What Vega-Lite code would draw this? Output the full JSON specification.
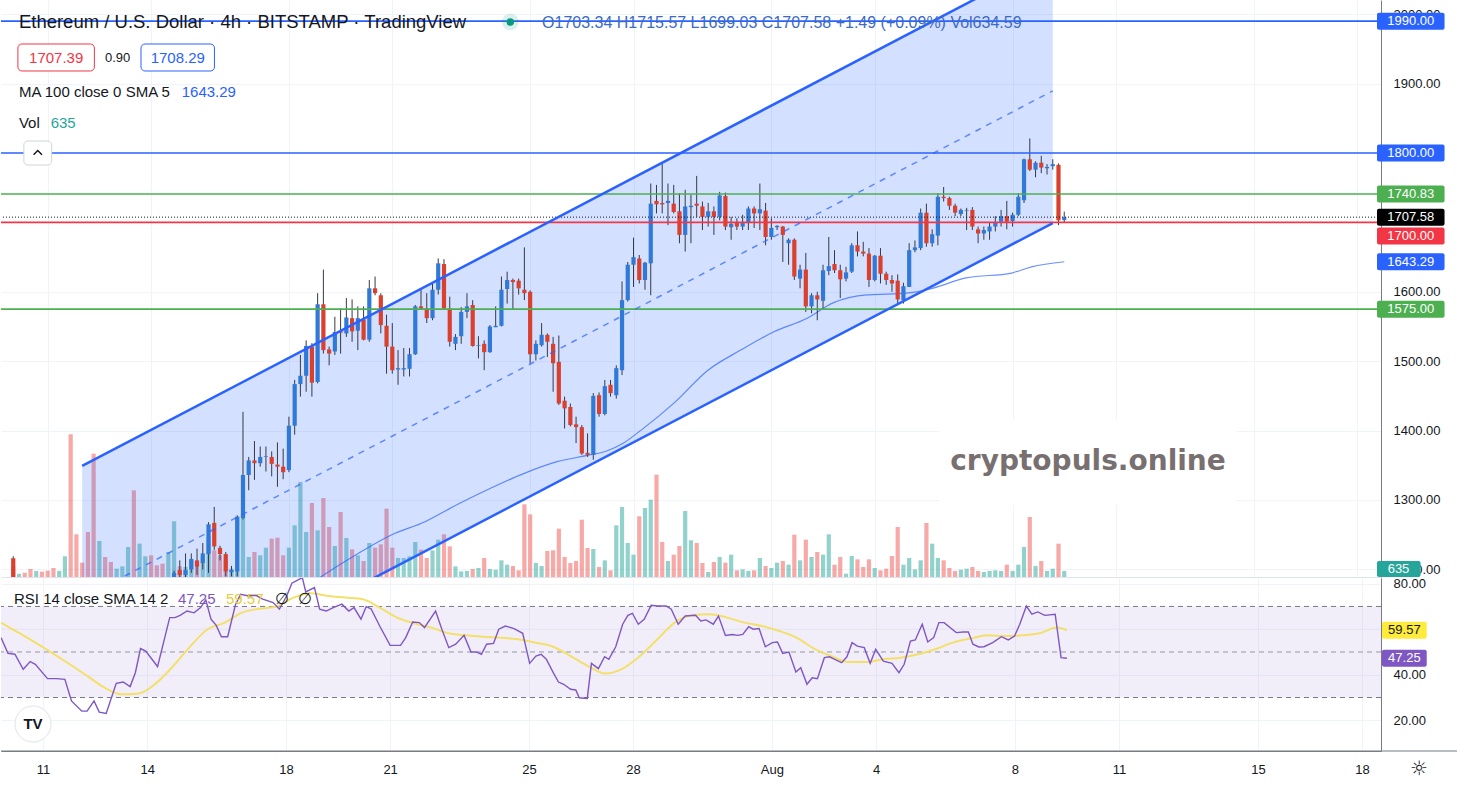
{
"$schema":"https://vega.github.io/schema/vega-lite/v6.json",
"padding":0,
"background":"#ffffff",
"spacing":0,
"config":{"view":{"stroke":null},"font":"Liberation Sans","axis":{"gridColor":"#f0f3fa","labelFont":"Liberation Sans","labelFontSize":13,"labelColor":"#131722","ticks":false}},
"resolve":{"scale":{"x":"independent","y":"independent"}},
"datasets":{
"k":[
{"t":10,"o":1216,"h":1219,"l":1160,"c":1168,"v":1060},
{"t":10.167,"o":1168,"h":1180,"l":1162,"c":1175,"v":353},
{"t":10.333,"o":1175,"h":1178,"l":1160,"c":1165,"v":459},
{"t":10.5,"o":1165,"h":1168,"l":1145,"c":1150,"v":848},
{"t":10.667,"o":1150,"h":1163,"l":1146,"c":1160,"v":636},
{"t":10.833,"o":1160,"h":1164,"l":1148,"c":1152,"v":565},
{"t":11,"o":1152,"h":1155,"l":1135,"c":1140,"v":671},
{"t":11.167,"o":1140,"h":1143,"l":1105,"c":1110,"v":954},
{"t":11.333,"o":1110,"h":1121,"l":1104,"c":1118,"v":636},
{"t":11.5,"o":1118,"h":1130,"l":1112,"c":1125,"v":2191},
{"t":11.667,"o":1125,"h":1128,"l":1062,"c":1070,"v":15123},
{"t":11.833,"o":1070,"h":1078,"l":1055,"c":1060,"v":4523},
{"t":12,"o":1060,"h":1066,"l":1050,"c":1055,"v":1519},
{"t":12.167,"o":1055,"h":1060,"l":1035,"c":1040,"v":4770},
{"t":12.333,"o":1040,"h":1044,"l":1002,"c":1010,"v":13073},
{"t":12.5,"o":1010,"h":1040,"l":1005,"c":1035,"v":3816},
{"t":12.667,"o":1035,"h":1040,"l":1025,"c":1030,"v":2120},
{"t":12.833,"o":1030,"h":1036,"l":1022,"c":1028,"v":1590},
{"t":13,"o":1028,"h":1038,"l":1024,"c":1035,"v":883},
{"t":13.167,"o":1035,"h":1048,"l":1030,"c":1045,"v":1131},
{"t":13.333,"o":1045,"h":1075,"l":1040,"c":1070,"v":3180},
{"t":13.5,"o":1070,"h":1074,"l":1006,"c":1020,"v":9187},
{"t":13.667,"o":1020,"h":1080,"l":1015,"c":1075,"v":3533},
{"t":13.833,"o":1075,"h":1105,"l":1070,"c":1100,"v":2191},
{"t":14,"o":1100,"h":1106,"l":1085,"c":1090,"v":2297},
{"t":14.167,"o":1090,"h":1095,"l":1080,"c":1085,"v":1237},
{"t":14.333,"o":1085,"h":1090,"l":1072,"c":1080,"v":1413},
{"t":14.5,"o":1080,"h":1115,"l":1076,"c":1110,"v":2650},
{"t":14.667,"o":1110,"h":1198,"l":1105,"c":1195,"v":5901},
{"t":14.833,"o":1199,"h":1213,"l":1185,"c":1192,"v":1131},
{"t":15,"o":1192,"h":1223,"l":1188,"c":1199,"v":1060},
{"t":15.167,"o":1200,"h":1223,"l":1195,"c":1215,"v":1767},
{"t":15.333,"o":1213,"h":1230,"l":1192,"c":1204,"v":1413},
{"t":15.5,"o":1209,"h":1238,"l":1200,"c":1223,"v":2120},
{"t":15.667,"o":1222,"h":1268,"l":1195,"c":1265,"v":4240},
{"t":15.833,"o":1267,"h":1290,"l":1228,"c":1233,"v":2827},
{"t":16,"o":1231,"h":1234,"l":1213,"c":1222,"v":2297},
{"t":16.167,"o":1222,"h":1225,"l":1190,"c":1197,"v":1767},
{"t":16.333,"o":1196,"h":1205,"l":1190,"c":1199,"v":883},
{"t":16.5,"o":1197,"h":1278,"l":1190,"c":1276,"v":6360},
{"t":16.667,"o":1274,"h":1427,"l":1272,"c":1336,"v":6713},
{"t":16.833,"o":1336,"h":1362,"l":1314,"c":1357,"v":2120},
{"t":17,"o":1357,"h":1385,"l":1329,"c":1353,"v":2650},
{"t":17.167,"o":1353,"h":1377,"l":1348,"c":1362,"v":2297},
{"t":17.333,"o":1362,"h":1377,"l":1341,"c":1363,"v":3109},
{"t":17.5,"o":1362,"h":1370,"l":1334,"c":1352,"v":4063},
{"t":17.667,"o":1351,"h":1383,"l":1319,"c":1348,"v":4169},
{"t":17.833,"o":1348,"h":1374,"l":1330,"c":1340,"v":2297},
{"t":18,"o":1343,"h":1420,"l":1340,"c":1407,"v":3109},
{"t":18.167,"o":1407,"h":1473,"l":1394,"c":1467,"v":5477},
{"t":18.333,"o":1467,"h":1509,"l":1449,"c":1479,"v":10070},
{"t":18.5,"o":1479,"h":1530,"l":1456,"c":1522,"v":4770},
{"t":18.667,"o":1521,"h":1526,"l":1449,"c":1469,"v":7844},
{"t":18.833,"o":1470,"h":1598,"l":1468,"c":1582,"v":4947},
{"t":19,"o":1582,"h":1632,"l":1511,"c":1516,"v":8374},
{"t":19.167,"o":1517,"h":1521,"l":1494,"c":1511,"v":5300},
{"t":19.333,"o":1514,"h":1564,"l":1509,"c":1542,"v":3286},
{"t":19.5,"o":1543,"h":1576,"l":1511,"c":1541,"v":6890},
{"t":19.667,"o":1540,"h":1591,"l":1535,"c":1563,"v":4134},
{"t":19.833,"o":1562,"h":1589,"l":1528,"c":1543,"v":2933},
{"t":20,"o":1544,"h":1579,"l":1516,"c":1562,"v":2297},
{"t":20.167,"o":1560,"h":1579,"l":1530,"c":1531,"v":1696},
{"t":20.333,"o":1531,"h":1617,"l":1528,"c":1605,"v":3604},
{"t":20.5,"o":1605,"h":1622,"l":1595,"c":1598,"v":3109},
{"t":20.667,"o":1595,"h":1598,"l":1540,"c":1552,"v":3463},
{"t":20.833,"o":1551,"h":1567,"l":1482,"c":1521,"v":7243},
{"t":21,"o":1521,"h":1555,"l":1482,"c":1487,"v":3109},
{"t":21.167,"o":1488,"h":1516,"l":1466,"c":1490,"v":2014},
{"t":21.333,"o":1488,"h":1519,"l":1478,"c":1490,"v":2014},
{"t":21.5,"o":1489,"h":1519,"l":1478,"c":1510,"v":2191},
{"t":21.667,"o":1510,"h":1581,"l":1509,"c":1579,"v":3710},
{"t":21.833,"o":1579,"h":1603,"l":1574,"c":1576,"v":2897},
{"t":22,"o":1576,"h":1598,"l":1555,"c":1562,"v":2014},
{"t":22.167,"o":1562,"h":1612,"l":1559,"c":1603,"v":2827},
{"t":22.333,"o":1603,"h":1648,"l":1596,"c":1641,"v":3957},
{"t":22.5,"o":1640,"h":1647,"l":1574,"c":1576,"v":4523},
{"t":22.667,"o":1576,"h":1593,"l":1521,"c":1528,"v":3251},
{"t":22.833,"o":1525,"h":1539,"l":1516,"c":1535,"v":1131},
{"t":23,"o":1536,"h":1578,"l":1525,"c":1571,"v":601},
{"t":23.167,"o":1571,"h":1598,"l":1562,"c":1579,"v":636},
{"t":23.333,"o":1581,"h":1588,"l":1521,"c":1522,"v":848},
{"t":23.5,"o":1522,"h":1536,"l":1504,"c":1523,"v":954},
{"t":23.667,"o":1525,"h":1530,"l":1487,"c":1513,"v":2014},
{"t":23.833,"o":1513,"h":1552,"l":1512,"c":1550,"v":848},
{"t":24,"o":1549,"h":1579,"l":1549,"c":1551,"v":777},
{"t":24.167,"o":1551,"h":1622,"l":1550,"c":1603,"v":1767},
{"t":24.333,"o":1604,"h":1629,"l":1583,"c":1617,"v":1307},
{"t":24.5,"o":1617,"h":1619,"l":1574,"c":1614,"v":1166},
{"t":24.667,"o":1616,"h":1619,"l":1596,"c":1605,"v":707},
{"t":24.833,"o":1603,"h":1664,"l":1588,"c":1598,"v":7703},
{"t":25,"o":1600,"h":1602,"l":1497,"c":1510,"v":6643},
{"t":25.167,"o":1510,"h":1530,"l":1501,"c":1525,"v":1484},
{"t":25.333,"o":1523,"h":1555,"l":1521,"c":1538,"v":1166},
{"t":25.5,"o":1538,"h":1540,"l":1506,"c":1528,"v":2756},
{"t":25.667,"o":1525,"h":1535,"l":1456,"c":1497,"v":2827},
{"t":25.833,"o":1499,"h":1537,"l":1437,"c":1439,"v":5123},
{"t":26,"o":1443,"h":1449,"l":1403,"c":1432,"v":2120},
{"t":26.167,"o":1434,"h":1439,"l":1406,"c":1408,"v":1484},
{"t":26.333,"o":1409,"h":1420,"l":1382,"c":1405,"v":1696},
{"t":26.5,"o":1405,"h":1408,"l":1365,"c":1367,"v":6077},
{"t":26.667,"o":1368,"h":1396,"l":1362,"c":1365,"v":3074},
{"t":26.833,"o":1365,"h":1454,"l":1358,"c":1450,"v":2968},
{"t":27,"o":1451,"h":1455,"l":1420,"c":1424,"v":1060},
{"t":27.167,"o":1424,"h":1473,"l":1422,"c":1464,"v":1767},
{"t":27.333,"o":1466,"h":1473,"l":1449,"c":1454,"v":707},
{"t":27.5,"o":1451,"h":1494,"l":1446,"c":1490,"v":5477},
{"t":27.667,"o":1487,"h":1615,"l":1480,"c":1588,"v":7420},
{"t":27.833,"o":1588,"h":1643,"l":1586,"c":1639,"v":3604},
{"t":28,"o":1639,"h":1678,"l":1607,"c":1650,"v":2367},
{"t":28.167,"o":1648,"h":1653,"l":1612,"c":1617,"v":6431},
{"t":28.333,"o":1617,"h":1643,"l":1603,"c":1642,"v":7314},
{"t":28.5,"o":1641,"h":1756,"l":1595,"c":1727,"v":8197},
{"t":28.667,"o":1731,"h":1754,"l":1713,"c":1726,"v":10847},
{"t":28.833,"o":1728,"h":1785,"l":1713,"c":1726,"v":3710},
{"t":29,"o":1728,"h":1756,"l":1696,"c":1731,"v":1696},
{"t":29.167,"o":1727,"h":1754,"l":1713,"c":1715,"v":2367},
{"t":29.333,"o":1716,"h":1742,"l":1670,"c":1682,"v":3286},
{"t":29.5,"o":1682,"h":1747,"l":1658,"c":1723,"v":6996},
{"t":29.667,"o":1722,"h":1740,"l":1670,"c":1724,"v":3887},
{"t":29.833,"o":1727,"h":1767,"l":1708,"c":1724,"v":3604},
{"t":30,"o":1723,"h":1730,"l":1689,"c":1708,"v":1484},
{"t":30.167,"o":1708,"h":1728,"l":1694,"c":1716,"v":530},
{"t":30.333,"o":1716,"h":1723,"l":1682,"c":1708,"v":1590},
{"t":30.5,"o":1708,"h":1744,"l":1703,"c":1739,"v":2120},
{"t":30.667,"o":1738,"h":1743,"l":1689,"c":1694,"v":1519},
{"t":30.833,"o":1693,"h":1708,"l":1675,"c":1698,"v":2367},
{"t":31,"o":1700,"h":1706,"l":1689,"c":1694,"v":707},
{"t":31.167,"o":1694,"h":1711,"l":1689,"c":1699,"v":813},
{"t":31.333,"o":1699,"h":1723,"l":1689,"c":1720,"v":636},
{"t":31.5,"o":1720,"h":1723,"l":1692,"c":1713,"v":707},
{"t":31.667,"o":1713,"h":1756,"l":1689,"c":1719,"v":2014},
{"t":31.833,"o":1717,"h":1728,"l":1667,"c":1679,"v":1166},
{"t":32,"o":1679,"h":1706,"l":1675,"c":1692,"v":954},
{"t":32.167,"o":1693,"h":1696,"l":1689,"c":1695,"v":1519},
{"t":32.333,"o":1694,"h":1695,"l":1643,"c":1682,"v":1696},
{"t":32.5,"o":1670,"h":1677,"l":1639,"c":1675,"v":1307},
{"t":32.667,"o":1675,"h":1677,"l":1617,"c":1622,"v":4487},
{"t":32.833,"o":1619,"h":1639,"l":1605,"c":1632,"v":1767},
{"t":33,"o":1632,"h":1656,"l":1571,"c":1579,"v":3957},
{"t":33.167,"o":1579,"h":1598,"l":1569,"c":1595,"v":2120},
{"t":33.333,"o":1595,"h":1600,"l":1559,"c":1589,"v":2650},
{"t":33.5,"o":1587,"h":1639,"l":1574,"c":1631,"v":2367},
{"t":33.667,"o":1630,"h":1679,"l":1624,"c":1637,"v":4523},
{"t":33.833,"o":1640,"h":1660,"l":1627,"c":1631,"v":1307},
{"t":34,"o":1631,"h":1639,"l":1591,"c":1618,"v":2120},
{"t":34.167,"o":1619,"h":1636,"l":1615,"c":1628,"v":353},
{"t":34.333,"o":1629,"h":1670,"l":1627,"c":1667,"v":2226},
{"t":34.5,"o":1667,"h":1687,"l":1651,"c":1658,"v":1873},
{"t":34.667,"o":1658,"h":1672,"l":1651,"c":1655,"v":1060},
{"t":34.833,"o":1655,"h":1663,"l":1607,"c":1617,"v":1873},
{"t":35,"o":1617,"h":1653,"l":1615,"c":1652,"v":954},
{"t":35.167,"o":1652,"h":1663,"l":1612,"c":1626,"v":707},
{"t":35.333,"o":1626,"h":1629,"l":1610,"c":1617,"v":883},
{"t":35.5,"o":1617,"h":1624,"l":1600,"c":1612,"v":2226},
{"t":35.667,"o":1616,"h":1625,"l":1583,"c":1589,"v":5300},
{"t":35.833,"o":1588,"h":1613,"l":1583,"c":1608,"v":1307},
{"t":36,"o":1607,"h":1670,"l":1607,"c":1660,"v":2014},
{"t":36.167,"o":1660,"h":1674,"l":1657,"c":1664,"v":813},
{"t":36.333,"o":1663,"h":1720,"l":1660,"c":1714,"v":1767},
{"t":36.5,"o":1714,"h":1727,"l":1665,"c":1670,"v":5724},
{"t":36.667,"o":1670,"h":1690,"l":1665,"c":1683,"v":3533},
{"t":36.833,"o":1681,"h":1742,"l":1667,"c":1737,"v":2014},
{"t":37,"o":1737,"h":1751,"l":1730,"c":1735,"v":1767},
{"t":37.167,"o":1735,"h":1737,"l":1718,"c":1724,"v":954},
{"t":37.333,"o":1724,"h":1727,"l":1709,"c":1714,"v":636},
{"t":37.5,"o":1712,"h":1720,"l":1709,"c":1718,"v":777},
{"t":37.667,"o":1717,"h":1721,"l":1689,"c":1718,"v":883},
{"t":37.833,"o":1718,"h":1722,"l":1689,"c":1694,"v":1060},
{"t":38,"o":1690,"h":1694,"l":1670,"c":1684,"v":636},
{"t":38.167,"o":1684,"h":1694,"l":1675,"c":1689,"v":530},
{"t":38.333,"o":1687,"h":1699,"l":1675,"c":1694,"v":636},
{"t":38.5,"o":1694,"h":1709,"l":1687,"c":1700,"v":707},
{"t":38.667,"o":1701,"h":1718,"l":1694,"c":1709,"v":636},
{"t":38.833,"o":1709,"h":1731,"l":1690,"c":1701,"v":1307},
{"t":39,"o":1702,"h":1714,"l":1694,"c":1711,"v":636},
{"t":39.167,"o":1711,"h":1742,"l":1709,"c":1737,"v":1307},
{"t":39.333,"o":1732,"h":1792,"l":1728,"c":1791,"v":3180},
{"t":39.5,"o":1791,"h":1821,"l":1774,"c":1776,"v":6360},
{"t":39.667,"o":1776,"h":1788,"l":1765,"c":1786,"v":1166},
{"t":39.833,"o":1786,"h":1796,"l":1771,"c":1779,"v":1696},
{"t":40,"o":1778,"h":1784,"l":1769,"c":1780,"v":636},
{"t":40.167,"o":1781,"h":1791,"l":1776,"c":1784,"v":883},
{"t":40.333,"o":1783,"h":1785,"l":1696,"c":1703,"v":3533},
{"t":40.5,"o":1703.34,"h":1715.57,"l":1699.03,"c":1707.58,"v":635}
],
"ch":[{"t":12,"lo":967.7,"mid":1158.4,"hi":1349},{"t":40.167,"lo":1699,"mid":1889.6,"hi":2080.3}],
"ma":[
{"t":18.6,"m":1178},{"t":18.95,"m":1190},{"t":20.01,"m":1223},{"t":20.97,"m":1249.6},{"t":21.95,"m":1268.7},{"t":22.9,"m":1293.8},{"t":23.85,"m":1316.9},{"t":24.83,"m":1338.4},{"t":25.78,"m":1355.2},{"t":26.73,"m":1364.9},{"t":27.22,"m":1370.6},{"t":27.7,"m":1381.7},{"t":28.23,"m":1401},{"t":29.18,"m":1440},{"t":30.16,"m":1487},{"t":31.11,"m":1516},{"t":32.06,"m":1542},{"t":33.04,"m":1562},{"t":33.79,"m":1584},{"t":34.77,"m":1595.6},{"t":35.52,"m":1597},{"t":36.21,"m":1600},{"t":36.67,"m":1605},{"t":37.65,"m":1620},{"t":38.97,"m":1627},{"t":39.55,"m":1636},{"t":40.5,"m":1643.29}
],
"rsi":[
{"t":9.79,"r":56.3},{"t":9.99,"r":49.4},{"t":10.19,"r":49.0},{"t":10.43,"r":42.4},{"t":10.63,"r":45.8},{"t":10.78,"r":44.6},{"t":11.13,"r":38.3},{"t":11.38,"r":38.3},{"t":11.63,"r":38.0},{"t":11.82,"r":28.5},{"t":12.12,"r":24.0},{"t":12.27,"r":24.0},{"t":12.47,"r":28.5},{"t":12.62,"r":23.6},{"t":12.82,"r":23.0},{"t":13.11,"r":36.2},{"t":13.31,"r":36.8},{"t":13.51,"r":34.8},{"t":13.66,"r":40.9},{"t":13.81,"r":51.5},{"t":13.96,"r":50.4},{"t":14.3,"r":43.6},{"t":14.65,"r":65.1},{"t":14.8,"r":65.1},{"t":14.95,"r":66.1},{"t":15.15,"r":68.0},{"t":15.35,"r":67.2},{"t":15.54,"r":69.5},{"t":15.69,"r":72.9},{"t":15.84,"r":64.4},{"t":15.99,"r":61.7},{"t":16.14,"r":56.7},{"t":16.32,"r":56.7},{"t":16.54,"r":70.5},{"t":16.69,"r":75.3},{"t":16.93,"r":74.6},{"t":17.13,"r":74.9},{"t":17.33,"r":73.2},{"t":17.63,"r":71.7},{"t":17.81,"r":68.8},{"t":18.02,"r":74.6},{"t":18.17,"r":80.2},{"t":18.47,"r":82.7},{"t":18.57,"r":76.4},{"t":18.82,"r":78.3},{"t":18.97,"r":68.8},{"t":19.16,"r":68.0},{"t":19.36,"r":69.5},{"t":19.61,"r":71.0},{"t":19.81,"r":68.0},{"t":19.96,"r":69.5},{"t":20.16,"r":64.4},{"t":20.31,"r":69.9},{"t":20.45,"r":69.0},{"t":20.7,"r":61.4},{"t":21.0,"r":52.9},{"t":21.3,"r":52.9},{"t":21.45,"r":56.3},{"t":21.65,"r":63.2},{"t":21.84,"r":62.9},{"t":21.99,"r":60.7},{"t":22.31,"r":68.0},{"t":22.49,"r":60.0},{"t":22.69,"r":51.9},{"t":22.89,"r":53.4},{"t":23.13,"r":57.3},{"t":23.33,"r":50.0},{"t":23.48,"r":50.0},{"t":23.63,"r":49.0},{"t":23.78,"r":53.4},{"t":23.98,"r":53.8},{"t":24.13,"r":60.0},{"t":24.32,"r":61.4},{"t":24.57,"r":60.3},{"t":24.82,"r":58.2},{"t":25.02,"r":45.0},
{"t":25.2,"r":48.2},{"t":25.35,"r":49.0},{"t":25.5,"r":46.8},{"t":25.7,"r":40.9},{"t":25.85,"r":36.8},{"t":26.0,"r":35.8},{"t":26.2,"r":33.6},{"t":26.35,"r":33.3},{"t":26.45,"r":29.9},{"t":26.68,"r":29.6},{"t":26.8,"r":45.0},{"t":27.0,"r":42.7},{"t":27.18,"r":47.9},{"t":27.3,"r":46.8},{"t":27.5,"r":52.3},{"t":27.7,"r":62.2},{"t":27.85,"r":66.1},{"t":27.98,"r":67.0},{"t":28.15,"r":62.2},{"t":28.32,"r":64.4},{"t":28.52,"r":70.5},{"t":28.7,"r":70.2},{"t":28.95,"r":70.2},{"t":29.1,"r":68.8},{"t":29.3,"r":62.2},{"t":29.5,"r":65.8},{"t":29.8,"r":66.1},{"t":29.95,"r":63.6},{"t":30.1,"r":64.1},{"t":30.31,"r":62.2},{"t":30.46,"r":65.8},{"t":30.66,"r":57.3},{"t":30.86,"r":57.7},{"t":31.01,"r":57.3},{"t":31.16,"r":57.7},{"t":31.33,"r":61.1},{"t":31.46,"r":60.0},{"t":31.63,"r":60.3},{"t":31.81,"r":52.3},{"t":32.01,"r":54.1},{"t":32.16,"r":54.4},{"t":32.31,"r":49.4},{"t":32.49,"r":50.0},{"t":32.69,"r":41.2},{"t":32.83,"r":43.1},{"t":33.01,"r":35.8},{"t":33.16,"r":38.7},{"t":33.31,"r":38.3},{"t":33.51,"r":47.5},{"t":33.66,"r":47.9},{"t":33.81,"r":46.8},{"t":34.01,"r":45.3},{"t":34.16,"r":47.9},{"t":34.31,"r":54.1},{"t":34.46,"r":52.6},{"t":34.66,"r":51.9},{"t":34.83,"r":45.0},{"t":34.99,"r":51.2},{"t":35.21,"r":46.0},{"t":35.46,"r":45.0},{"t":35.66,"r":40.9},{"t":35.81,"r":44.6},{"t":35.99,"r":54.8},{"t":36.13,"r":55.3},{"t":36.33,"r":62.2},{"t":36.49,"r":54.4},{"t":36.66,"r":56.3},{"t":36.81,"r":62.9},{"t":36.96,"r":62.9},{"t":37.31,"r":58.5},{"t":37.51,"r":58.8},{"t":37.66,"r":58.8},{"t":37.79,"r":53.4},{"t":37.96,"r":52.2},{"t":38.11,"r":52.3},{"t":38.36,"r":54.1},{"t":38.61,"r":56.7},{"t":38.81,"r":55.3},{"t":38.99,"r":57.0},{"t":39.14,"r":62.2},{"t":39.33,"r":70.2},{"t":39.49,"r":66.6},{"t":39.66,"r":67.6},{"t":39.86,"r":66.1},{"t":40.16,"r":66.6},{"t":40.33,"r":47.5},{"t":40.5,"r":47.25}
],
"sma":[
{"t":9.79,"s":62.9},{"t":10.29,"s":58.5},{"t":10.78,"s":54.1},{"t":11.28,"s":49.4},{"t":11.77,"s":44.6},{"t":12.27,"s":39.5},{"t":12.77,"s":34.3},{"t":13.26,"s":31.4},{"t":13.76,"s":31.8},{"t":14.25,"s":36.2},{"t":14.75,"s":43.8},{"t":15.25,"s":52.6},{"t":15.74,"s":60.0},{"t":16.24,"s":62.9},{"t":16.73,"s":67.3},{"t":17.23,"s":69.0},{"t":17.73,"s":70.0},{"t":18.22,"s":73.9},{"t":18.72,"s":75.8},{"t":19.21,"s":74.6},{"t":19.71,"s":73.9},{"t":20.21,"s":73.2},{"t":20.7,"s":69.5},{"t":21.2,"s":65.1},{"t":21.69,"s":62.6},{"t":22.19,"s":60.7},{"t":22.69,"s":58.2},{"t":23.18,"s":57.3},{"t":23.68,"s":56.7},{"t":24.17,"s":56.3},{"t":24.67,"s":55.6},{"t":25.2,"s":54.1},{"t":25.7,"s":52.3},{"t":26.2,"s":48.2},{"t":26.7,"s":43.8},{"t":27.2,"s":40.5},{"t":27.7,"s":42.7},{"t":28.2,"s":48.2},{"t":28.7,"s":55.6},{"t":29.2,"s":62.9},{"t":29.7,"s":66.1},{"t":30.21,"s":66.6},{"t":30.71,"s":65.1},{"t":31.21,"s":62.9},{"t":31.71,"s":61.4},{"t":32.21,"s":59.2},{"t":32.71,"s":56.3},{"t":33.21,"s":51.5},{"t":33.71,"s":48.2},{"t":34.21,"s":45.6},{"t":34.71,"s":45.6},{"t":35.21,"s":46.8},{"t":35.71,"s":47.5},{"t":36.21,"s":49.0},{"t":36.71,"s":51.2},{"t":37.21,"s":54.1},{"t":37.71,"s":55.9},{"t":38.21,"s":57.3},{"t":38.71,"s":57.0},{"t":39.21,"s":57.3},{"t":39.71,"s":58.2},{"t":40.21,"s":60.7},{"t":40.5,"s":59.57}
]
},
"vconcat":[
{
"width":1380,"height":577,
"resolve":{"scale":{"y":"independent"}},
"layer":[
{"data":{"name":"k"},"mark":{"type":"bar","width":4.2,"opacity":0.5,"clip":true},
 "encoding":{
  "x":{"field":"t","type":"quantitative","scale":{"domain":[9.7897,49.547],"nice":false,"zero":false},"axis":{"values":[11,14,18,21,25,28,32,35,39,42,46,49],"grid":true,"labels":false,"ticks":false,"domain":true,"domainColor":"#e0e3eb","title":null}},
  "y":{"field":"v","type":"quantitative","scale":{"domain":[0,61160],"nice":false},"axis":null},
  "color":{"condition":{"test":"datum.c >= datum.o","value":"#26a69a"},"value":"#ef5350"}}},
{"layer":[
 {"data":{"values":[{}]},"mark":{"type":"rect","color":"#ffffff"},"encoding":{"x":{"datum":36.87},"x2":{"datum":45.51},"y":{"datum":1292.7},"y2":{"datum":1415.2}}},
 {"data":{"name":"ch"},"mark":{"type":"area","color":"#2962ff","opacity":0.2,"clip":true},"encoding":{"x":{"field":"t","type":"quantitative"},"y":{"field":"lo","type":"quantitative"},"y2":{"field":"hi"}}},
 {"data":{"name":"ma"},"mark":{"type":"line","color":"#2962ff","opacity":0.7,"strokeWidth":1.2,"interpolate":"monotone","clip":true},"encoding":{"x":{"field":"t","type":"quantitative"},"y":{"field":"m","type":"quantitative"}}},
 {"data":{"name":"k"},"mark":{"type":"rule","color":"#363a45","strokeWidth":1,"clip":true},"encoding":{"x":{"field":"t","type":"quantitative"},"y":{"field":"l","type":"quantitative","scale":{"domain":[1189,2020.5],"nice":false,"zero":false},"axis":{"orient":"right","values":[1200,1300,1400,1500,1600,1900,2000],"format":".2f","grid":true,"ticks":false,"labelPadding":12,"domain":true,"domainColor":"#787b86","title":null}},"y2":{"field":"h"}}},
 {"data":{"name":"k"},"mark":{"type":"bar","width":4.2,"clip":true},"encoding":{"x":{"field":"t","type":"quantitative"},"y":{"field":"o","type":"quantitative"},"y2":{"field":"c"},"color":{"condition":{"test":"datum.c >= datum.o","value":"#3179d6"},"value":"#d9402e"}}},
 {"data":{"values":[{}]},"layer":[
  {"mark":{"type":"rule","color":"#2962ff","strokeWidth":1.6},"encoding":{"y":{"datum":1990}}},
  {"mark":{"type":"rule","color":"#2962ff","strokeWidth":1.6},"encoding":{"y":{"datum":1800}}},
  {"mark":{"type":"rule","color":"#4caf50","strokeWidth":1.6},"encoding":{"y":{"datum":1740.83}}},
  {"mark":{"type":"rule","color":"#f23645","strokeWidth":1.6},"encoding":{"y":{"datum":1700}}},
  {"mark":{"type":"rule","color":"#4caf50","strokeWidth":1.6},"encoding":{"y":{"datum":1575}}},
  {"mark":{"type":"rule","color":"#131722","strokeWidth":1,"strokeDash":[1,2]},"encoding":{"y":{"datum":1707.58}}}
 ]},
 {"data":{"name":"ch"},"mark":{"type":"line","color":"#2962ff","strokeWidth":2.5,"clip":true},"encoding":{"x":{"field":"t","type":"quantitative"},"y":{"field":"lo","type":"quantitative"}}},
 {"data":{"name":"ch"},"mark":{"type":"line","color":"#2962ff","strokeWidth":2.5,"clip":true},"encoding":{"x":{"field":"t","type":"quantitative"},"y":{"field":"hi","type":"quantitative"}}},
 {"data":{"name":"ch"},"mark":{"type":"line","color":"#2962ff","opacity":0.7,"strokeWidth":1.5,"strokeDash":[6,6],"clip":true},"encoding":{"x":{"field":"t","type":"quantitative"},"y":{"field":"mid","type":"quantitative"}}},
 {"data":{"values":[{}]},"layer":[
  {"mark":{"type":"text","align":"left","baseline":"middle","fontSize":18.5,"color":"#131722"},"encoding":{"x":{"datum":10.164},"y":{"datum":1988.8},"text":{"value":"Ethereum / U.S. Dollar · 4h · BITSTAMP · TradingView"}}},
  {"mark":{"type":"point","filled":true,"size":280,"color":"#089981","opacity":0.15},"encoding":{"x":{"datum":24.425},"y":{"datum":1988.8}}},
  {"mark":{"type":"point","filled":true,"size":55,"color":"#089981","opacity":1},"encoding":{"x":{"datum":24.425},"y":{"datum":1988.8}}},
  {"mark":{"type":"text","align":"left","baseline":"middle","fontSize":16,"color":"#3c6bc6"},"encoding":{"x":{"datum":25.346},"y":{"datum":1987.4},"text":{"value":"O1703.34 H1715.57 L1699.03 C1707.58 +1.49 (+0.09%) Vol634.59"}}},
  {"mark":{"type":"rect","fill":"#ffffff","stroke":"#f23645","strokeWidth":1,"cornerRadius":4},"encoding":{"x":{"datum":10.135},"x2":{"datum":12.354},"y":{"datum":1918.2},"y2":{"datum":1957.1}}},
  {"mark":{"type":"text","align":"center","baseline":"middle","fontSize":15,"color":"#f23645"},"encoding":{"x":{"datum":11.245},"y":{"datum":1937.6},"text":{"value":"1707.39"}}},
  {"mark":{"type":"text","align":"center","baseline":"middle","fontSize":13,"color":"#131722"},"encoding":{"x":{"datum":13.03},"y":{"datum":1937.6},"text":{"value":"0.90"}}},
  {"mark":{"type":"rect","fill":"#ffffff","stroke":"#2962ff","strokeWidth":1,"cornerRadius":4},"encoding":{"x":{"datum":13.707},"x2":{"datum":15.839},"y":{"datum":1918.2},"y2":{"datum":1957.1}}},
  {"mark":{"type":"text","align":"center","baseline":"middle","fontSize":15,"color":"#2962ff"},"encoding":{"x":{"datum":14.774},"y":{"datum":1937.6},"text":{"value":"1708.29"}}},
  {"mark":{"type":"text","align":"left","baseline":"middle","fontSize":15,"color":"#131722"},"encoding":{"x":{"datum":10.164},"y":{"datum":1887.9},"text":{"value":"MA 100 close 0 SMA 5"}}},
  {"mark":{"type":"text","align":"left","baseline":"middle","fontSize":15,"color":"#2962ff"},"encoding":{"x":{"datum":14.889},"y":{"datum":1887.9},"text":{"value":"1643.29"}}},
  {"mark":{"type":"text","align":"left","baseline":"middle","fontSize":15,"color":"#131722"},"encoding":{"x":{"datum":10.164},"y":{"datum":1843.2},"text":{"value":"Vol"}}},
  {"mark":{"type":"text","align":"left","baseline":"middle","fontSize":15,"color":"#26a69a"},"encoding":{"x":{"datum":11.086},"y":{"datum":1843.2},"text":{"value":"635"}}},
  {"mark":{"type":"rect","fill":"#ffffff","stroke":"#d1d4dc","strokeWidth":1,"cornerRadius":4},"encoding":{"x":{"datum":10.308},"x2":{"datum":11.115},"y":{"datum":1782.7},"y2":{"datum":1817.3}}},
  {"mark":{"type":"point","shape":"M -1 0.5 L 0 -0.5 L 1 0.5","filled":false,"strokeWidth":1.5,"size":70,"color":"#131722","opacity":1},"encoding":{"x":{"datum":10.712},"y":{"datum":1800.5}}},
  {"mark":{"type":"text","align":"center","baseline":"middle","font":"DejaVu Sans","fontWeight":"bold","fontSize":28,"color":"#787070"},"encoding":{"x":{"datum":41.19},"y":{"datum":1354.7},"text":{"value":"cryptopuls.online"}}},
  {"mark":{"type":"rect","color":"#2962ff","cornerRadius":2},"encoding":{"x":{"datum":49.576},"x2":{"datum":51.536},"y":{"datum":1977.75},"y2":{"datum":2002.25}}},
  {"mark":{"type":"text","align":"center","baseline":"middle","fontSize":13,"color":"#ffffff"},"encoding":{"x":{"datum":50.556},"y":{"datum":1990},"text":{"value":"1990.00"}}},
  {"mark":{"type":"rect","color":"#2962ff","cornerRadius":2},"encoding":{"x":{"datum":49.576},"x2":{"datum":51.536},"y":{"datum":1787.75},"y2":{"datum":1812.25}}},
  {"mark":{"type":"text","align":"center","baseline":"middle","fontSize":13,"color":"#ffffff"},"encoding":{"x":{"datum":50.556},"y":{"datum":1800},"text":{"value":"1800.00"}}},
  {"mark":{"type":"rect","color":"#4caf50","cornerRadius":2},"encoding":{"x":{"datum":49.576},"x2":{"datum":51.536},"y":{"datum":1728.58},"y2":{"datum":1753.08}}},
  {"mark":{"type":"text","align":"center","baseline":"middle","fontSize":13,"color":"#ffffff"},"encoding":{"x":{"datum":50.556},"y":{"datum":1740.83},"text":{"value":"1740.83"}}},
  {"mark":{"type":"rect","color":"#000000","cornerRadius":2},"encoding":{"x":{"datum":49.576},"x2":{"datum":51.536},"y":{"datum":1695.33},"y2":{"datum":1719.83}}},
  {"mark":{"type":"text","align":"center","baseline":"middle","fontSize":13,"color":"#ffffff"},"encoding":{"x":{"datum":50.556},"y":{"datum":1707.58},"text":{"value":"1707.58"}}},
  {"mark":{"type":"rect","color":"#f23645","cornerRadius":2},"encoding":{"x":{"datum":49.576},"x2":{"datum":51.536},"y":{"datum":1668.15},"y2":{"datum":1692.65}}},
  {"mark":{"type":"text","align":"center","baseline":"middle","fontSize":13,"color":"#ffffff"},"encoding":{"x":{"datum":50.556},"y":{"datum":1680.4},"text":{"value":"1700.00"}}},
  {"mark":{"type":"rect","color":"#2962ff","cornerRadius":2},"encoding":{"x":{"datum":49.576},"x2":{"datum":51.536},"y":{"datum":1631.04},"y2":{"datum":1655.54}}},
  {"mark":{"type":"text","align":"center","baseline":"middle","fontSize":13,"color":"#ffffff"},"encoding":{"x":{"datum":50.556},"y":{"datum":1643.29},"text":{"value":"1643.29"}}},
  {"mark":{"type":"rect","color":"#4caf50","cornerRadius":2},"encoding":{"x":{"datum":49.576},"x2":{"datum":51.536},"y":{"datum":1562.75},"y2":{"datum":1587.25}}},
  {"mark":{"type":"text","align":"center","baseline":"middle","fontSize":13,"color":"#ffffff"},"encoding":{"x":{"datum":50.556},"y":{"datum":1575},"text":{"value":"1575.00"}}},
  {"mark":{"type":"rect","color":"#26a69a","cornerRadius":2},"encoding":{"x":{"datum":49.576},"x2":{"datum":50.84},"y":{"datum":1189},"y2":{"datum":1212}}},
  {"mark":{"type":"text","align":"center","baseline":"middle","fontSize":13,"color":"#ffffff"},"encoding":{"x":{"datum":50.2},"y":{"datum":1200.5},"text":{"value":"635"}}}
 ]}
]}
]
},
{
"width":1380,"height":173,
"layer":[
{"data":{"values":[{}]},"layer":[
 {"mark":{"type":"rule","color":"#f0f3fa","strokeWidth":1},"encoding":{"y":{"datum":60}}},
 {"mark":{"type":"rect","color":"#7e57c2","opacity":0.1},"encoding":{"y":{"datum":30},"y2":{"datum":70}}},
 {"mark":{"type":"rule","color":"#787b86","strokeWidth":1,"strokeDash":[5,4]},"encoding":{"y":{"datum":70}}},
 {"mark":{"type":"rule","color":"#9598a1","strokeWidth":1,"strokeDash":[5,4]},"encoding":{"y":{"datum":50}}},
 {"mark":{"type":"rule","color":"#787b86","strokeWidth":1,"strokeDash":[5,4]},"encoding":{"y":{"datum":30}}},
 {"mark":{"type":"rule","color":"#787b86","strokeWidth":1},"encoding":{"x":{"datum":9.7897},"x2":{"datum":51.8},"y":{"datum":6.5}}}
]},
{"data":{"name":"sma"},"mark":{"type":"line","color":"#f2e06b","strokeWidth":2,"interpolate":"monotone","clip":true},"encoding":{"x":{"field":"t","type":"quantitative"},"y":{"field":"s","type":"quantitative"}}},
{"data":{"name":"rsi"},"mark":{"type":"line","color":"#7e57c2","strokeWidth":1.4,"clip":true},
 "encoding":{
  "x":{"field":"t","type":"quantitative","scale":{"domain":[9.7897,49.547],"nice":false,"zero":false},"axis":{"values":[11,14,18,21,25,28,32,35,39,42,46,49],"grid":true,"ticks":false,"labelPadding":12,"labelFlush":false,"labelExpr":"datum.value == 32 ? 'Aug' : (datum.value > 31 ? '' + (datum.value - 31) : '' + datum.value)","domain":true,"domainColor":"#787b86","title":null}},
  "y":{"field":"r","type":"quantitative","scale":{"domain":[6.5,82.5],"nice":false,"zero":false},"axis":{"orient":"right","values":[20,40,80],"format":".2f","grid":true,"ticks":false,"labelPadding":12,"domain":true,"domainColor":"#787b86","title":null}}}},
{"data":{"values":[{}]},"layer":[
 {"mark":{"type":"text","align":"left","baseline":"middle","fontSize":15,"color":"#131722"},"encoding":{"x":{"datum":10.164},"y":{"datum":73.4},"text":{"value":"RSI 14 close SMA 14 2"}}},
 {"mark":{"type":"text","align":"left","baseline":"middle","fontSize":15,"color":"#7e57c2"},"encoding":{"x":{"datum":14.889},"y":{"datum":73.4},"text":{"value":"47.25"}}},
 {"mark":{"type":"text","align":"left","baseline":"middle","fontSize":15,"color":"#e6cc3a"},"encoding":{"x":{"datum":16.272},"y":{"datum":73.4},"text":{"value":"59.57"}}},
 {"mark":{"type":"text","align":"center","baseline":"middle","fontSize":16,"color":"#131722"},"encoding":{"x":{"datum":17.886},"y":{"datum":73.4},"text":{"value":"∅"}}},
 {"mark":{"type":"text","align":"center","baseline":"middle","fontSize":16,"color":"#131722"},"encoding":{"x":{"datum":18.548},"y":{"datum":73.4},"text":{"value":"∅"}}},
 {"mark":{"type":"rect","color":"#ffeb3b","cornerRadius":2},"encoding":{"x":{"datum":49.576},"x2":{"datum":50.864},"y":{"datum":55.84},"y2":{"datum":63.3}}},
 {"mark":{"type":"text","align":"center","baseline":"middle","fontSize":13,"color":"#131722"},"encoding":{"x":{"datum":50.22},"y":{"datum":59.57},"text":{"value":"59.57"}}},
 {"mark":{"type":"rect","color":"#7e57c2","cornerRadius":2},"encoding":{"x":{"datum":49.576},"x2":{"datum":50.864},"y":{"datum":43.52},"y2":{"datum":50.98}}},
 {"mark":{"type":"text","align":"center","baseline":"middle","fontSize":13,"color":"#ffffff"},"encoding":{"x":{"datum":50.22},"y":{"datum":47.25},"text":{"value":"47.25"}}},
 {"mark":{"type":"point","shape":"circle","filled":true,"size":1300,"color":"#ffffff","stroke":"#e0e3eb","strokeWidth":1,"opacity":1},"encoding":{"x":{"datum":10.712},"y":{"datum":18.36}}},
 {"mark":{"type":"text","align":"center","baseline":"middle","fontSize":15,"fontWeight":900,"color":"#131722"},"encoding":{"x":{"datum":10.712},"y":{"datum":18.36},"text":{"value":"TV"}}},
 {"mark":{"type":"text","align":"center","baseline":"middle","font":"DejaVu Sans","fontSize":20,"color":"#131722"},"encoding":{"x":{"datum":50.643},"y":{"datum":-1.41},"text":{"value":"☼"}}}
]}
]
}
]
}
